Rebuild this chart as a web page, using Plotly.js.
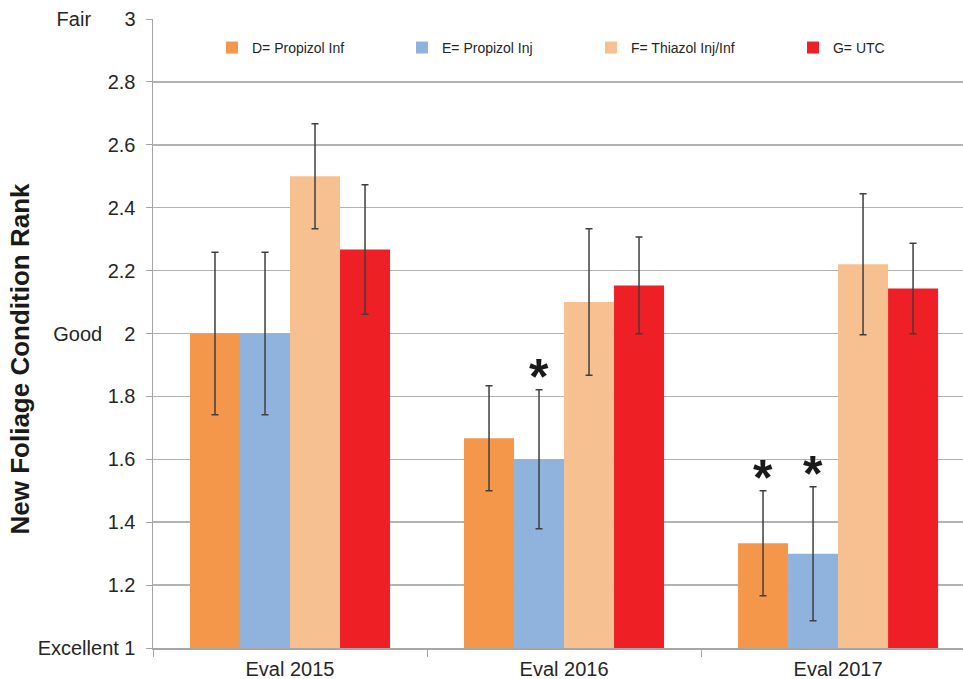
<!DOCTYPE html>
<html>
<head>
<meta charset="utf-8">
<script src="https://cdn.plot.ly/plotly-3.0.1.min.js"></script>
<style>html,body{margin:0;padding:0;background:#fff;}#chart{width:963px;height:679px;}</style>
</head>
<body>
<div id="chart"></div>
<script>
const categories = ['Eval 2015', 'Eval 2016', 'Eval 2017'];
const seriesNames = ['D= Propizol Inf', 'E= Propizol Inj', 'F= Thiazol Inj/Inf', 'G= UTC'];
const seriesColors = ['#F4974A', '#8FB3DC', '#F7C090', '#EE1F25'];
const valuesD = [2.0, 1.667, 1.333];
const errorD = [0.258, 0.167, 0.167];
const valuesE = [2.0, 1.6, 1.3];
const errorE = [0.258, 0.221, 0.213];
const valuesF = [2.5, 2.1, 2.22];
const errorF = [0.167, 0.233, 0.224];
const valuesG = [2.267, 2.153, 2.143];
const errorG = [0.206, 0.154, 0.144];
// significance markers (*): series index and category index
const sigSeries = [1, 0, 1];
const sigCategory = [1, 2, 2];
const NB = '\u00a0';
const tickValues = [1, 1.2, 1.4, 1.6, 1.8, 2, 2.2, 2.4, 2.6, 2.8, 3];
const tickText = ['Excellent' + NB + '1', '1.2', '1.4', '1.6', '1.8', 'Good' + NB.repeat(4) + '2',
                  '2.2', '2.4', '2.6', '2.8', 'Fair' + NB.repeat(6) + '3'];
const yTitle = 'New Foliage Condition Rank';

const allValues = [valuesD, valuesE, valuesF, valuesG];
const allErrors = [errorD, errorE, errorF, errorG];
const FONT = 'Liberation Sans, Arial, sans-serif';
const TXT = '#262626';
const bargap = 0.27;
const legendX = [0.0728, 0.3074, 0.5407, 0.7901];

const traces = allValues.map((vals, i) => ({
  type: 'bar',
  name: seriesNames[i],
  x: categories,
  y: vals,
  legend: i === 0 ? 'legend' : 'legend' + (i + 1),
  marker: { color: seriesColors[i], line: { width: 0 } },
  error_y: { type: 'data', array: allErrors[i], visible: true, color: '#3f3f3f', thickness: 1.5, width: 3.5 },
  hoverinfo: 'x+y+name'
}));

const groupW = 1 - bargap;
const barW = groupW / seriesNames.length;
const annotations = [];
sigSeries.forEach((s, k) => {
  const c = sigCategory[k];
  annotations.push({
    x: c - groupW / 2 + barW * (s + 0.5),
    y: allValues[s][c] + allErrors[s][c],
    xref: 'x', yref: 'y',
    text: '<b>*</b>', showarrow: false,
    xanchor: 'center', yanchor: 'bottom', yshift: -17,
    font: { family: FONT, size: 50, color: '#1a1a1a' }
  });
});
annotations.push({
  x: 0, xref: 'paper', xshift: -134, y: 0.5, yref: 'paper', yshift: -25,
  text: '<b>' + yTitle + '</b>', textangle: -90, showarrow: false,
  xanchor: 'center', yanchor: 'middle',
  font: { family: FONT, size: 26, color: '#1a1a1a' }
});

const layout = {
  width: 963, height: 679,
  margin: { l: 153, r: 0, t: 19, b: 31 },
  paper_bgcolor: '#ffffff', plot_bgcolor: '#ffffff',
  barmode: 'group', bargap: bargap, bargroupgap: 0,
  showlegend: true,
  xaxis: {
    type: 'category', range: [-0.5, 2.456],
    showline: true, linecolor: '#a6a6a6', linewidth: 1.5,
    ticks: 'outside', tickson: 'boundaries', ticklen: 7, tickcolor: '#a6a6a6', tickwidth: 1,
    ticklabelstandoff: 2,
    showgrid: false, zeroline: false,
    tickfont: { family: FONT, size: 20, color: TXT }
  },
  yaxis: {
    range: [1, 3], tickmode: 'array', tickvals: tickValues, ticktext: tickText,
    showline: true, linecolor: '#a6a6a6', linewidth: 1.5,
    ticks: 'outside', ticklen: 6, tickcolor: '#a6a6a6', tickwidth: 1,
    ticklabelstandoff: 6,
    showgrid: true, gridcolor: '#b3b3b3', gridwidth: 1.5, zeroline: false,
    tickfont: { family: FONT, size: 20, color: TXT },
    automargin: false
  },
  annotations: annotations
};
legendX.forEach((lx, i) => {
  layout[i === 0 ? 'legend' : 'legend' + (i + 1)] = {
    orientation: 'h', x: lx, xanchor: 'left', y: 0.954, yanchor: 'middle',
    font: { family: FONT, size: 14, color: TXT },
    bgcolor: 'rgba(0,0,0,0)', itemclick: false
  };
});

Plotly.newPlot('chart', traces, layout, { displayModeBar: false, staticPlot: true });
</script>
</body>
</html>
